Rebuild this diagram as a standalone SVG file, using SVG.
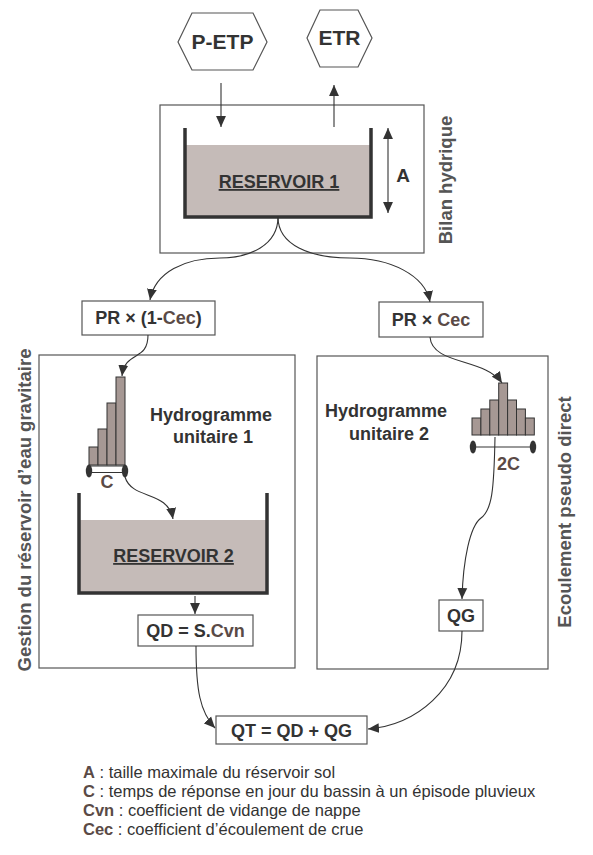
<svg xmlns="http://www.w3.org/2000/svg" width="593" height="855" viewBox="0 0 593 855">
<style>
text{font-family:"Liberation Sans",Arial,sans-serif;fill:#333}
.b{font-weight:bold}
.lbl{font-weight:bold;font-size:18px;text-anchor:middle}
.side{font-weight:bold;font-size:18.5px;text-anchor:middle;fill:#555}
.box{fill:#fff;stroke:#555;stroke-width:1.2}
.frame{fill:none;stroke:#555;stroke-width:1.2}
.wall{fill:none;stroke:#333;stroke-width:3.5}
.water{fill:#c5bbb8}
.bar{fill:#a69894;stroke:#333;stroke-width:1}
.con{fill:none;stroke:#333;stroke-width:1.1}
.br{fill:#5a4a46}
.leg{font-size:16.5px}
</style>
<defs>
<marker id="ah" viewBox="0 0 10 10" refX="10" refY="5" markerWidth="11" markerHeight="11" markerUnits="userSpaceOnUse" orient="auto-start-reverse">
<path d="M0,0.5 L10,5 L0,9.5 Z" fill="#333"/>
</marker>
</defs>

<g id="frame-bilan"><rect class="frame" x="160" y="105" width="264" height="148"/>
<text class="side" transform="translate(452,180) rotate(-90)">Bilan hydrique</text></g>
<g id="frame-gravitaire"><rect class="frame" x="39" y="355" width="256" height="313"/>
<text class="side" transform="translate(31,510) rotate(-90)">Gestion du réservoir d’eau gravitaire</text></g>
<g id="frame-pseudo"><rect class="frame" x="317" y="356" width="231" height="313"/>
<text class="side" transform="translate(571,512) rotate(-90)">Ecoulement pseudo direct</text></g>

<g id="p-etp"><polygon class="box" points="178,42 192,13 253,13 267,42 253,70 192,70"/>
<text class="lbl" x="222.5" y="49" style="font-size:21px">P-ETP</text></g>
<g id="etr"><polygon class="box" points="307,38 320,10 358,10 372,38 358,67 320,67"/>
<text class="lbl" x="339.5" y="45" style="font-size:21px">ETR</text></g>

<g id="reservoir1">
<rect class="water" x="185" y="145" width="186" height="72"/>
<path class="wall" d="M185,128 V217 H371 V128"/>
<text class="lbl" x="279" y="188" style="text-decoration:underline">RESERVOIR 1</text>
</g>
<g id="a-size"><line class="con" x1="388" y1="128" x2="388" y2="213" marker-start="url(#ah)" marker-end="url(#ah)"/>
<text class="lbl" x="403" y="182" style="font-size:19px">A</text></g>

<g id="pr1"><rect class="box" x="82" y="301" width="133" height="34"/>
<text class="lbl" x="148.5" y="324">PR × (1-<tspan class="br">Cec</tspan>)</text></g>
<g id="pr2"><rect class="box" x="379" y="302" width="104" height="35"/>
<text class="lbl" x="431" y="326">PR × <tspan class="br">Cec</tspan></text></g>

<g id="hydro1">
<rect class="bar" x="89" y="447" width="9" height="18"/>
<rect class="bar" x="98" y="429" width="9" height="36"/>
<rect class="bar" x="107" y="403" width="9" height="62"/>
<rect class="bar" x="116" y="377" width="9" height="88"/>
<rect x="89" y="466" width="36" height="6.5" fill="#fff" stroke="#333" stroke-width="1"/>
<ellipse cx="89" cy="471" rx="3.2" ry="6.5" fill="#333"/>
<ellipse cx="125" cy="471" rx="3.2" ry="6.5" fill="#333"/>
<text class="lbl br" x="107" y="488">C</text>
<text class="lbl" x="211" y="421">Hydrogramme</text>
<text class="lbl" x="213" y="443">unitaire 1</text>
</g>

<g id="reservoir2">
<rect class="water" x="79" y="520" width="188" height="73"/>
<path class="wall" d="M79,493 V593 H267 V493"/>
<text class="lbl" x="173.5" y="562" style="text-decoration:underline">RESERVOIR 2</text>
</g>

<g id="qd"><rect class="box" x="138" y="615" width="115" height="31"/>
<text class="lbl" x="195.5" y="637">QD = S.<tspan class="br">Cvn</tspan></text></g>

<g id="hydro2">
<rect class="bar" x="472" y="418" width="8.9" height="17"/>
<rect class="bar" x="480.9" y="409" width="8.9" height="26"/>
<rect class="bar" x="489.8" y="400" width="8.9" height="35"/>
<rect class="bar" x="498.7" y="383" width="8.9" height="52"/>
<rect class="bar" x="507.6" y="400" width="8.9" height="35"/>
<rect class="bar" x="516.5" y="409" width="8.9" height="26"/>
<rect class="bar" x="525.4" y="418" width="8.9" height="17"/>
<line x1="473" y1="447" x2="533" y2="447" stroke="#777" stroke-width="1.5"/>
<ellipse cx="473" cy="447" rx="3.2" ry="6.5" fill="#333"/>
<ellipse cx="533" cy="447" rx="3.2" ry="6.5" fill="#333"/>
<text class="lbl br" x="508.5" y="470">2C</text>
<text class="lbl" x="386" y="417">Hydrogramme</text>
<text class="lbl" x="389" y="440">unitaire 2</text>
</g>

<g id="qg"><rect class="box" x="439" y="600" width="44" height="31"/>
<text class="lbl" x="461" y="622">QG</text></g>

<g id="qt"><rect class="box" x="216" y="716" width="151" height="28"/>
<text class="lbl" x="291.5" y="737">QT = QD + QG</text></g>

<g id="connectors">
<line class="con" x1="221" y1="83" x2="221" y2="127" marker-end="url(#ah)"/>
<line class="con" x1="334" y1="127" x2="334" y2="85" marker-end="url(#ah)"/>
<path class="con" d="M278,217 C278,245 250,258 220,258 C185,258 155,272 150,300" marker-end="url(#ah)"/>
<path class="con" d="M278,217 C278,245 310,258 350,258 C390,258 425,275 430,302" marker-end="url(#ah)"/>
<path class="con" d="M148,335 C148,362 125,350 122,376" marker-end="url(#ah)"/>
<path class="con" d="M125,477 C132,500 168,490 173,519" marker-end="url(#ah)"/>
<line class="con" x1="195" y1="596" x2="195" y2="614" marker-end="url(#ah)"/>
<path class="con" d="M196,646 C196,690 200,712 215,728" marker-end="url(#ah)"/>
<path class="con" d="M430,337 C432,365 485,358 502,383" marker-end="url(#ah)"/>
<path class="con" d="M495,437 C494,490 492,510 481,518 C470,526 463,560 462,599" marker-end="url(#ah)"/>
<path class="con" d="M462,631 C462,690 415,725 368,729" marker-end="url(#ah)"/>
</g>

<g id="legend">
<text class="leg" x="83" y="778"><tspan class="b br">A</tspan> : taille maximale du réservoir sol</text>
<text class="leg" x="83" y="797"><tspan class="b br">C</tspan> : temps de réponse en jour du bassin à un épisode pluvieux</text>
<text class="leg" x="83" y="816"><tspan class="b br">Cvn</tspan> : coefficient de vidange de nappe</text>
<text class="leg" x="83" y="835"><tspan class="b br">Cec</tspan> : coefficient d’écoulement de crue</text>
</g>
</svg>
